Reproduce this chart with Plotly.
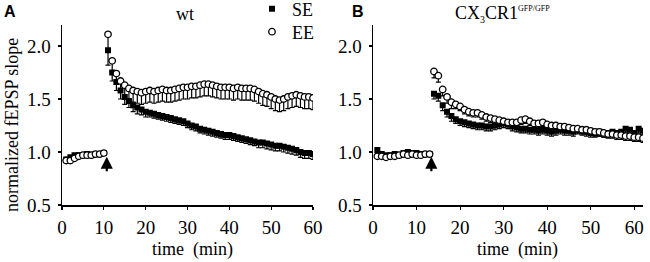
import plotly.graph_objects as go

# ---------------- data ----------------
# Panel A (wt)
tA = list(range(1, 61))
A_SE = [0.93, 0.95, 0.97, 0.97, 0.97, 0.98, 0.97, 0.98, 0.98, 0.99,
        1.96, 1.75, 1.66, 1.58, 1.52, 1.48, 1.44, 1.42, 1.40, 1.38,
        1.37, 1.36, 1.35, 1.34, 1.33, 1.32, 1.31, 1.30, 1.29, 1.27,
        1.25, 1.24, 1.22, 1.21, 1.20, 1.19, 1.18, 1.17, 1.16, 1.16,
        1.15, 1.14, 1.13, 1.12, 1.11, 1.10, 1.09, 1.09, 1.08, 1.07,
        1.06, 1.06, 1.05, 1.04, 1.03, 1.02, 1.00, 0.99, 0.99, 0.98]
A_SE_err = [0.02] * 10 + [0.14, 0.08, 0.08, 0.08, 0.07, 0.06, 0.06, 0.06, 0.05, 0.05] + \
           [0.04] * 26 + [0.05] * 14
A_EE = [0.92, 0.92, 0.94, 0.96, 0.97, 0.97, 0.97, 0.98, 0.98, 0.99,
        2.11, 1.86, 1.74, 1.67, 1.63, 1.60, 1.58, 1.57, 1.56, 1.57,
        1.58, 1.57, 1.58, 1.59, 1.58, 1.58, 1.59, 1.60, 1.61, 1.61,
        1.62, 1.62, 1.63, 1.64, 1.64, 1.63, 1.62, 1.61, 1.61, 1.61,
        1.60, 1.61, 1.60, 1.60, 1.60, 1.59, 1.57, 1.55, 1.54, 1.52,
        1.50, 1.49, 1.50, 1.52, 1.53, 1.54, 1.53, 1.52, 1.52, 1.51]
A_EE_err = [0.02] * 10 + [0.15, 0.10, 0.10, 0.10, 0.10] + [0.11] * 45

# Panel B (CX3CR1 GFP/GFP)
tB = list(range(1, 63))
B_SE = [1.02, 0.98, 0.97, 0.97, 0.98, 0.97, 0.99, 1.00, 0.99, 0.99, 0.98, 0.98, 0.98,
        1.55, 1.53, 1.44, 1.38, 1.34, 1.31, 1.29, 1.28, 1.27, 1.26, 1.25, 1.25,
        1.24, 1.24, 1.25, 1.26, 1.27, 1.26, 1.24, 1.23, 1.22, 1.22, 1.21, 1.21,
        1.20, 1.21, 1.20, 1.19, 1.20, 1.21, 1.20, 1.20, 1.19, 1.21, 1.20, 1.19,
        1.18, 1.18, 1.19, 1.18, 1.18, 1.19, 1.18, 1.19, 1.22, 1.21, 1.18, 1.22, 1.20]
B_SE_err = [0.02] * 13 + [0.05] * 5 + [0.04] * 44
B_EE = [0.96, 0.96, 0.95, 0.96, 0.96, 0.97, 0.98, 0.97, 0.98, 0.97, 0.97, 0.98, 0.98,
        1.76, 1.72, 1.59, 1.52, 1.47, 1.45, 1.43, 1.40, 1.38, 1.37, 1.37, 1.35,
        1.33, 1.32, 1.31, 1.30, 1.29, 1.28, 1.28, 1.28, 1.30, 1.31, 1.29, 1.27,
        1.27, 1.28, 1.26, 1.25, 1.25, 1.24, 1.24, 1.23, 1.22, 1.22, 1.21, 1.21,
        1.20, 1.19, 1.19, 1.18, 1.17, 1.17, 1.16, 1.16, 1.15, 1.15, 1.14, 1.14, 1.13]
B_EE_err = [0.02] * 13 + [0.06] * 5 + [0.04] * 44

x_ticks = [0, 10, 20, 30, 40, 50, 60]
y_ticks = [0.5, 1.0, 1.5, 2.0]
y_ticklabels = ["0.5", "1.0", "1.5", "2.0"]
arrow_A = (10.7, 0.955)
arrow_B = (13.4, 0.955)

# ---------------- figure ----------------
SERIF = "Liberation Serif"
fig = go.Figure()


def add_pair(t, se, se_err, ee, ee_err, xa, ya, show):
    fig.add_trace(go.Scatter(
        x=t, y=se, mode="markers", name="SE", showlegend=show, legend="legend",
        xaxis=xa, yaxis=ya,
        marker=dict(symbol="square", size=6, color="black"),
        error_y=dict(type="data", symmetric=False, array=[0] * len(se_err),
                     arrayminus=se_err, color="black", thickness=1.2, width=2.5),
    ))
    fig.add_trace(go.Scatter(
        x=t, y=ee, mode="markers", name="EE", showlegend=show, legend="legend2",
        xaxis=xa, yaxis=ya,
        marker=dict(symbol="circle", size=6.5, color="white",
                    line=dict(color="black", width=1.3)),
        error_y=dict(type="data", symmetric=False, array=[0] * len(ee_err),
                     arrayminus=ee_err, color="black", thickness=1.2, width=2.5),
    ))


add_pair(tA, A_SE, A_SE_err, A_EE, A_EE_err, "x", "y", True)
add_pair(tB, B_SE, B_SE_err, B_EE, B_EE_err, "x2", "y2", False)

ydom = [1 - 205 / 262, 1 - 24.8 / 262]
axis_common = dict(showline=True, linecolor="black", linewidth=1.5, showgrid=False,
                   zeroline=False, ticks="outside", ticklen=3, tickwidth=1.2,
                   tickcolor="black", tickfont=dict(family=SERIF, size=19, color="black"),
                   fixedrange=True, automargin=False)

leg_common = dict(xanchor="left", yanchor="middle",
                  font=dict(family=SERIF, size=18, color="black"),
                  bgcolor="rgba(0,0,0,0)", itemwidth=30, borderwidth=0)

fig.update_layout(
    template="none",
    width=650, height=262,
    font=dict(family=SERIF, color="black"),
    margin=dict(l=0, r=0, t=0, b=0, pad=0, autoexpand=False),
    paper_bgcolor="white", plot_bgcolor="white",
    xaxis=dict(domain=[62 / 650, 313 / 650], range=[0, 60], tickvals=x_ticks,
               anchor="y", ticklabelstandoff=2, **axis_common),
    yaxis=dict(domain=ydom, range=[0.5, 2.2], tickvals=y_ticks, ticktext=y_ticklabels,
               anchor="x", ticklabelstandoff=3, **axis_common),
    xaxis2=dict(domain=[373 / 650, 643 / 650], range=[0, 62], tickvals=x_ticks,
                anchor="y2", ticklabelstandoff=2, **axis_common),
    yaxis2=dict(domain=ydom, range=[0.5, 2.2], tickvals=y_ticks, ticktext=y_ticklabels,
                anchor="x2", ticklabelstandoff=3, **axis_common),
    legend=dict(x=252 / 650, y=1 - 9 / 262, **leg_common),
    legend2=dict(x=252 / 650, y=1 - 32 / 262, **leg_common),
    showlegend=True,
)

annotations = [
    dict(x=arrow_A[0], y=arrow_A[1], xref="x", yref="y", ax=0, ay=16,
         showarrow=True, arrowhead=2, arrowsize=1.1, arrowwidth=2.2, arrowcolor="black", text=""),
    dict(x=arrow_B[0], y=arrow_B[1], xref="x2", yref="y2", ax=0, ay=16,
         showarrow=True, arrowhead=2, arrowsize=1.1, arrowwidth=2.2, arrowcolor="black", text=""),
    dict(x=10 / 650, y=1 - 11 / 262, text="<b>A</b>",
         font=dict(family="Liberation Sans", size=16, color="black")),
    dict(x=358 / 650, y=1 - 11 / 262, text="<b>B</b>",
         font=dict(family="Liberation Sans", size=16, color="black")),
    dict(x=185 / 650, y=1 - 14 / 262, text="wt",
         font=dict(family=SERIF, size=18, color="black")),
    dict(x=502 / 650, y=1 - 14 / 262,
         text='CX<sub><span style="font-size:10px">3</span></sub>CR1<sup><span style="font-size:8px">GFP/GFP</span></sup>',
         font=dict(family=SERIF, size=18, color="black")),
    dict(x=193 / 650, y=1 - 249 / 262, text="time\u00a0 (min)",
         font=dict(family=SERIF, size=18, color="black")),
    dict(x=517 / 650, y=1 - 249 / 262, text="time\u00a0 (min)",
         font=dict(family=SERIF, size=18, color="black")),
    dict(x=12 / 650, y=1 - 125 / 262, textangle=-90, text="normalized fEPSP slope",
         font=dict(family=SERIF, size=18, color="black")),
]
for a in annotations[2:]:
    a.update(xref="paper", yref="paper", showarrow=False, xanchor="center", yanchor="middle")
fig.update_layout(annotations=annotations)

fig.write_html(
    "out.html",
    config={"displayModeBar": False, "staticPlot": True},
    post_script="document.body.style.margin='0px';document.body.style.padding='0px';"
                "document.documentElement.style.overflow='hidden';",
)
